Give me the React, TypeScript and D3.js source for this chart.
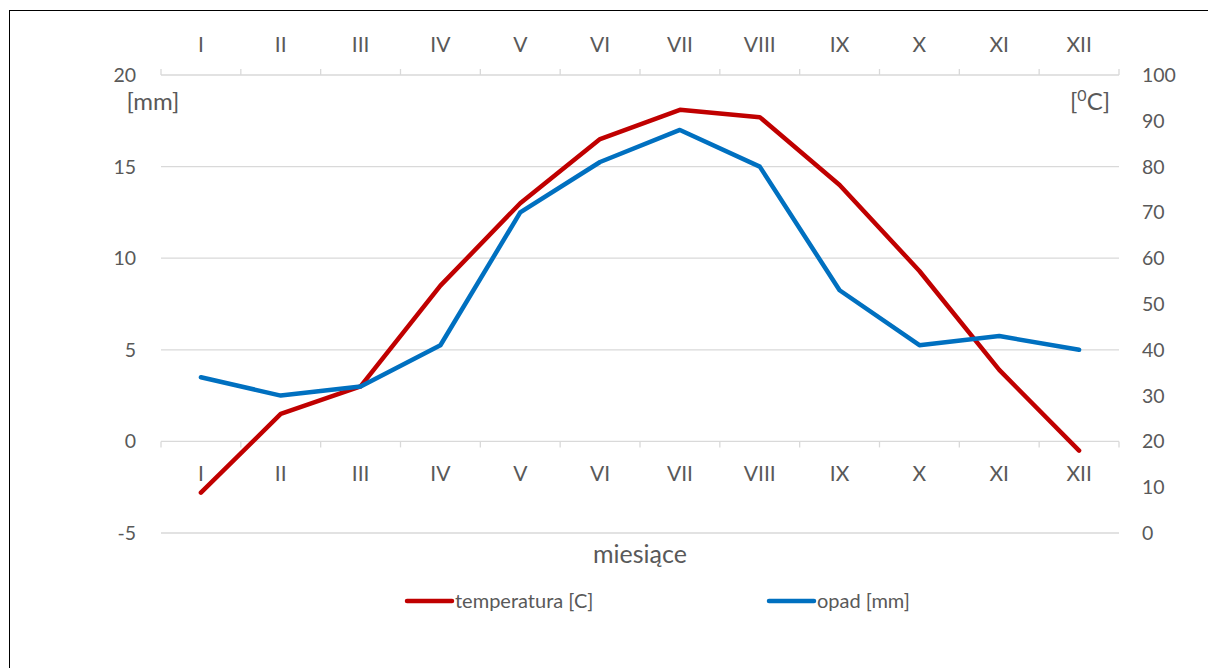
import React from "react";
import * as d3 from "d3";

const months = ["I", "II", "III", "IV", "V", "VI", "VII", "VIII", "IX", "X", "XI", "XII"];
const temperatura = [-2.8, 1.5, 3.0, 8.5, 13.0, 16.5, 18.1, 17.7, 14.0, 9.3, 3.9, -0.5];
const opad = [34, 30, 32, 41, 70, 81, 88, 80, 53, 41, 43, 40];
const leftTicks = [-5, 0, 5, 10, 15, 20];
const rightTicks = [0, 10, 20, 30, 40, 50, 60, 70, 80, 90, 100];

const W = 1208;
const H = 668;
const FONT = "Lato, 'Open Sans', sans-serif";
const TXT = "#595959";
const GRID = "#d9d9d9";

export default function App() {
  const x0 = 161, x1 = 1119, yTop = 75, yBot = 533;
  const band = d3.scaleBand<string>().domain(months).range([x0, x1]);
  const xc = (m: string) => (band(m) as number) + band.bandwidth() / 2;
  const yL = d3.scaleLinear().domain([-5, 20]).range([yBot, yTop]);
  const yR = d3.scaleLinear().domain([0, 100]).range([yBot, yTop]);

  const lineT = d3.line<number>().x((_, i) => xc(months[i])).y((d) => yL(d));
  const lineO = d3.line<number>().x((_, i) => xc(months[i])).y((d) => yR(d));

  const boundaries = months.map((m) => band(m) as number).concat([x1]);
  const y0 = yL(0);

  return (
    <svg width={W} height={H} style={{ position: "absolute", left: 0, top: 0 }}>
      <rect x={0} y={0} width={W} height={H} fill="#fff" />
      <rect x={9.5} y={10.5} width={W + 10} height={H + 10} fill="none" stroke="#000" strokeWidth={1} />
      {/* gridlines */}
      {leftTicks.filter((t) => t !== 0 && t !== 20).map((t) => (
        <line key={t} x1={x0} x2={x1} y1={yL(t)} y2={yL(t)} stroke={GRID} strokeWidth={1.3} />
      ))}
      {/* top axis */}
      <line x1={x0} x2={x1} y1={yTop} y2={yTop} stroke={GRID} strokeWidth={1.3} />
      {boundaries.map((b, i) => (
        <line key={"tt" + i} x1={b} x2={b} y1={yTop} y2={yTop - 6} stroke={GRID} strokeWidth={1.3} />
      ))}
      {months.map((m) => (
        <text key={"tl" + m} x={xc(m)} y={52} textAnchor="middle" fontFamily={FONT} fontSize={21} fill={TXT}>{m}</text>
      ))}
      {/* bottom axis at 0 */}
      <line x1={x0} x2={x1} y1={y0} y2={y0} stroke={GRID} strokeWidth={1.3} />
      {boundaries.map((b, i) => (
        <line key={"bt" + i} x1={b} x2={b} y1={y0} y2={y0 + 6} stroke={GRID} strokeWidth={1.3} />
      ))}
      {months.map((m) => (
        <text key={"bl" + m} x={xc(m)} y={481} textAnchor="middle" fontFamily={FONT} fontSize={21} fill={TXT}>{m}</text>
      ))}
      {/* left ticks */}
      {leftTicks.map((t) => (
        <text key={"l" + t} x={136} y={yL(t) + 7} textAnchor="end" fontFamily={FONT} fontSize={19.5} fill={TXT}>{t}</text>
      ))}
      {/* right ticks */}
      {rightTicks.map((t) => (
        <text key={"r" + t} x={1142} y={yR(t) + 7} textAnchor="start" fontFamily={FONT} fontSize={19.5} fill={TXT}>{t}</text>
      ))}
      <text x={153} y={110} textAnchor="middle" fontFamily={FONT} fontSize={24} fill={TXT}>[mm]</text>
      <text x={1090} y={110} textAnchor="middle" fontFamily={FONT} fontSize={24} fill={TXT}>
        [<tspan fontSize={16} dy={-9}>0</tspan><tspan dy={9}>C]</tspan>
      </text>
      {/* lines */}
      <path d={lineT(temperatura) as string} fill="none" stroke="#c00000" strokeWidth={4.5} strokeLinejoin="round" strokeLinecap="round" />
      <path d={lineO(opad) as string} fill="none" stroke="#0070c0" strokeWidth={4.5} strokeLinejoin="round" strokeLinecap="round" />
      {/* x title */}
      <text x={640} y={563} textAnchor="middle" fontFamily={FONT} fontSize={25} fill={TXT}>miesiące</text>
      {/* legend */}
      <line x1={407} x2={452} y1={601} y2={601} stroke="#c00000" strokeWidth={4.5} strokeLinecap="round" />
      <text x={455} y={608} fontFamily={FONT} fontSize={20} fill={TXT}>temperatura [C]</text>
      <line x1={769} x2={814} y1={601} y2={601} stroke="#0070c0" strokeWidth={4.5} strokeLinecap="round" />
      <text x={817} y={608} fontFamily={FONT} fontSize={20} fill={TXT}>opad [mm]</text>
    </svg>
  );
}
